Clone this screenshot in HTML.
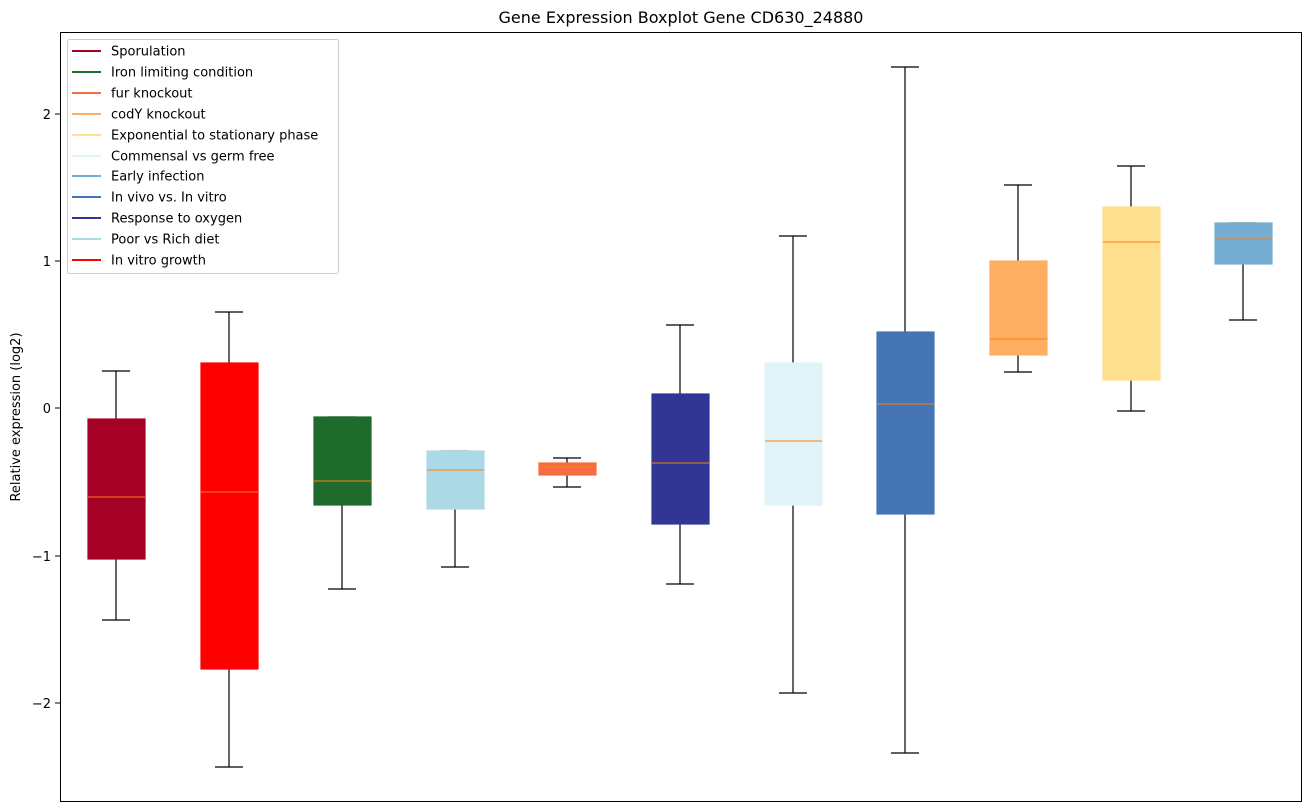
<!DOCTYPE html>
<html><head><meta charset="utf-8"><style>body{margin:0;background:#fff}svg{display:block;font-family:"DejaVu Sans","Liberation Sans",sans-serif}</style></head><body>
<svg width="1309" height="812" xmlns="http://www.w3.org/2000/svg">
<rect width="1309" height="812" fill="#fff"/>
<text x="681" y="23" font-size="16" text-anchor="middle">Gene Expression Boxplot Gene CD630_24880</text>
<g font-size="13" text-anchor="end">
<line x1="55" x2="60" y1="114" y2="114" stroke="#000"/><text x="51" y="119">2</text>
<line x1="55" x2="60" y1="261" y2="261" stroke="#000"/><text x="51" y="266">1</text>
<line x1="55" x2="60" y1="408" y2="408" stroke="#000"/><text x="51" y="413">0</text>
<line x1="55" x2="60" y1="556" y2="556" stroke="#000"/><text x="51" y="561">−1</text>
<line x1="55" x2="60" y1="703" y2="703" stroke="#000"/><text x="51" y="708">−2</text>
</g>
<text transform="translate(20,417) rotate(-90)" font-size="13" text-anchor="middle">Relative expression (log2)</text>
<g stroke="#000" stroke-width="1.2">
<!-- 1 -->
<line x1="116" x2="116" y1="371" y2="419"/><line x1="116" x2="116" y1="559" y2="620"/><line x1="102" x2="130" y1="371" y2="371"/><line x1="102" x2="130" y1="620" y2="620"/>
<rect x="88" y="419" width="57" height="140" fill="#a50026" stroke="#a50026"/><line x1="88" x2="145" y1="497" y2="497" stroke="#ff7f0e" stroke-width="1"/>
<!-- 2 -->
<line x1="229" x2="229" y1="312" y2="363"/><line x1="229" x2="229" y1="669" y2="767"/><line x1="215" x2="243" y1="312" y2="312"/><line x1="215" x2="243" y1="767" y2="767"/>
<rect x="201" y="363" width="57" height="306" fill="#ff0000" stroke="#ff0000"/><line x1="201" x2="258" y1="492" y2="492" stroke="#ff7f0e" stroke-width="1"/>
<!-- 3 -->
<line x1="342" x2="342" y1="505" y2="589"/><line x1="328" x2="356" y1="417" y2="417"/><line x1="328" x2="356" y1="589" y2="589"/>
<rect x="314" y="417" width="57" height="88" fill="#1f6b2c" stroke="#1f6b2c"/><line x1="314" x2="371" y1="481" y2="481" stroke="#ff7f0e" stroke-width="1"/>
<!-- 4 -->
<line x1="455" x2="455" y1="509" y2="567"/><line x1="441" x2="469" y1="451" y2="451"/><line x1="441" x2="469" y1="567" y2="567"/>
<rect x="427" y="451" width="57" height="58" fill="#add8e6" stroke="#add8e6"/><line x1="427" x2="484" y1="470" y2="470" stroke="#ff7f0e" stroke-width="1"/>
<!-- 5 -->
<line x1="567" x2="567" y1="458" y2="463"/><line x1="567" x2="567" y1="475" y2="487"/><line x1="553" x2="581" y1="458" y2="458"/><line x1="553" x2="581" y1="487" y2="487"/>
<rect x="539" y="463" width="57" height="12" fill="#f46d43" stroke="#f46d43"/><line x1="539" x2="596" y1="467" y2="467" stroke="#ff7f0e" stroke-width="1"/>
<!-- 6 -->
<line x1="680" x2="680" y1="325" y2="394"/><line x1="680" x2="680" y1="524" y2="584"/><line x1="666" x2="694" y1="325" y2="325"/><line x1="666" x2="694" y1="584" y2="584"/>
<rect x="652" y="394" width="57" height="130" fill="#313695" stroke="#313695"/><line x1="652" x2="709" y1="463" y2="463" stroke="#ff7f0e" stroke-width="1"/>
<!-- 7 -->
<line x1="793" x2="793" y1="236" y2="363"/><line x1="793" x2="793" y1="505" y2="693"/><line x1="779" x2="807" y1="236" y2="236"/><line x1="779" x2="807" y1="693" y2="693"/>
<rect x="765" y="363" width="57" height="142" fill="#e0f3f8" stroke="#e0f3f8"/><line x1="765" x2="822" y1="441" y2="441" stroke="#ff7f0e" stroke-width="1"/>
<!-- 8 -->
<line x1="905" x2="905" y1="67" y2="332"/><line x1="905" x2="905" y1="514" y2="753"/><line x1="891" x2="919" y1="67" y2="67"/><line x1="891" x2="919" y1="753" y2="753"/>
<rect x="877" y="332" width="57" height="182" fill="#4575b4" stroke="#4575b4"/><line x1="877" x2="934" y1="404" y2="404" stroke="#ff7f0e" stroke-width="1"/>
<!-- 9 -->
<line x1="1018" x2="1018" y1="185" y2="261"/><line x1="1018" x2="1018" y1="355" y2="372"/><line x1="1004" x2="1032" y1="185" y2="185"/><line x1="1004" x2="1032" y1="372" y2="372"/>
<rect x="990" y="261" width="57" height="94" fill="#fdae61" stroke="#fdae61"/><line x1="990" x2="1047" y1="339" y2="339" stroke="#ff7f0e" stroke-width="1"/>
<!-- 10 -->
<line x1="1131" x2="1131" y1="166" y2="207"/><line x1="1131" x2="1131" y1="380" y2="411"/><line x1="1117" x2="1145" y1="166" y2="166"/><line x1="1117" x2="1145" y1="411" y2="411"/>
<rect x="1103" y="207" width="57" height="173" fill="#fee090" stroke="#fee090"/><line x1="1103" x2="1160" y1="242" y2="242" stroke="#ff7f0e" stroke-width="1"/>
<!-- 11 -->
<line x1="1243" x2="1243" y1="264" y2="320"/><line x1="1229" x2="1257" y1="223" y2="223"/><line x1="1229" x2="1257" y1="320" y2="320"/>
<rect x="1215" y="223" width="57" height="41" fill="#74add1" stroke="#74add1"/><line x1="1215" x2="1272" y1="239" y2="239" stroke="#ff7f0e" stroke-width="1"/>
</g>
<rect x="60.5" y="32.5" width="1241" height="769" fill="none" stroke="#000"/>
<rect x="67.5" y="39.5" width="271" height="234" fill="#fff" stroke="#ccc" rx="2"/>
<g font-size="13" stroke-width="2">
<line x1="72" x2="101" y1="51" y2="51" stroke="#a50026"/><text x="111" y="55.5">Sporulation</text>
<line x1="72" x2="101" y1="72" y2="72" stroke="#1f6b2c"/><text x="111" y="76.5">Iron limiting condition</text>
<line x1="72" x2="101" y1="93" y2="93" stroke="#f46d43"/><text x="111" y="97.5">fur knockout</text>
<line x1="72" x2="101" y1="114" y2="114" stroke="#fdae61"/><text x="111" y="118.5">codY knockout</text>
<line x1="72" x2="101" y1="135" y2="135" stroke="#fee090"/><text x="111" y="139.5">Exponential to stationary phase</text>
<line x1="72" x2="101" y1="156" y2="156" stroke="#e0f3f8"/><text x="111" y="160.5">Commensal vs germ free</text>
<line x1="72" x2="101" y1="176" y2="176" stroke="#74add1"/><text x="111" y="180.5">Early infection</text>
<line x1="72" x2="101" y1="197" y2="197" stroke="#4575b4"/><text x="111" y="201.5">In vivo vs. In vitro</text>
<line x1="72" x2="101" y1="218" y2="218" stroke="#313695"/><text x="111" y="222.5">Response to oxygen</text>
<line x1="72" x2="101" y1="239" y2="239" stroke="#add8e6"/><text x="111" y="243.5">Poor vs Rich diet</text>
<line x1="72" x2="101" y1="260" y2="260" stroke="#ff0000"/><text x="111" y="264.5">In vitro growth</text>
</g>
</svg></body></html>
